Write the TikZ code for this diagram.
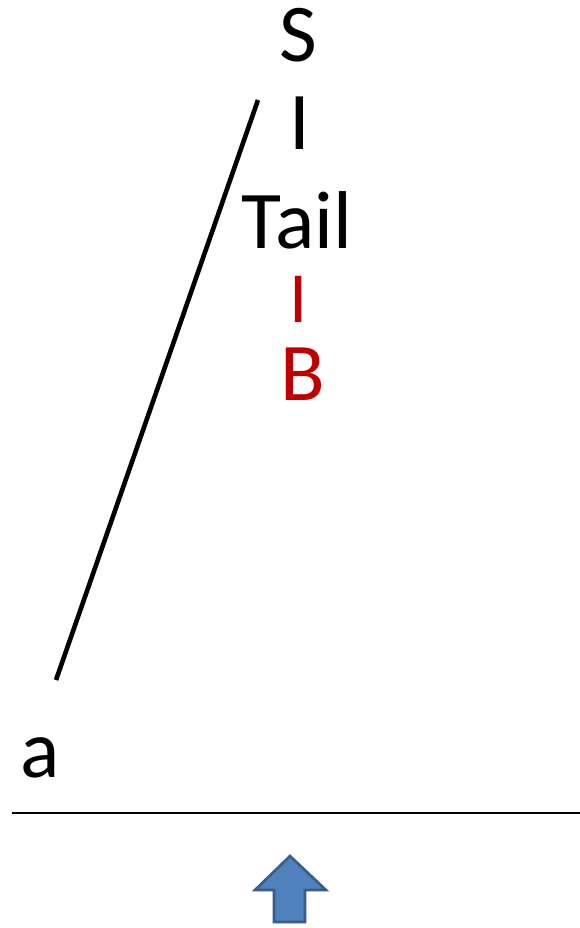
\documentclass[tikz,border=0pt]{standalone}
\usepackage{fontspec}
\setmainfont{Carlito}
\usepackage{tikz}
\usetikzlibrary{positioning,calc}
\definecolor{Ink}{HTML}{000000}
\definecolor{Rust}{HTML}{C00000}
\definecolor{ArrowFill}{HTML}{4F81BD}
\definecolor{ArrowEdge}{HTML}{385D8A}
\tikzset{
  word/.style={inner sep=0pt,anchor=base,text=Ink,font=\fontsize{82}{82}\selectfont},
  redword/.style={word,text=Rust},
  branch/.style={draw=Ink,line width=4.6pt},
  baseline rule/.style={draw=Ink,line width=2pt},
  uparrow/.style={fill=ArrowFill,draw=ArrowEdge,line width=2.6pt,line join=miter}
}
\begin{document}
\begin{tikzpicture}[x=1pt,y=-1pt]
    \useasboundingbox (0,0) rectangle (580,928);
    \node[word] (s) at (298,62) {S};
    \node[word] (bar) at (300,150) {I};
    \node[word] (tail) at (297,248) {Tail};
    \node[redword,font=\fontsize{72}{72}\selectfont] (redbar) at (299,322) {I};
    \node[redword] (b) at (303,400) {B};
    \node[word] (a) at (40,777) {a};
    \coordinate (top) at (258,100);
    \coordinate (foot) at (56,680);
    \draw[branch] (top) -- (foot);
    \coordinate (ruleL) at (12,813); \coordinate (ruleR) at (580,813);
    \draw[baseline rule] (ruleL) -- (ruleR);
    % pointer under the input
    \draw[uparrow] (290,856) -- (326,890) -- (305,890) -- (305,922)
      -- (274,922) -- (274,890) -- (255,890) -- cycle;
  \end{tikzpicture}
\end{document}
